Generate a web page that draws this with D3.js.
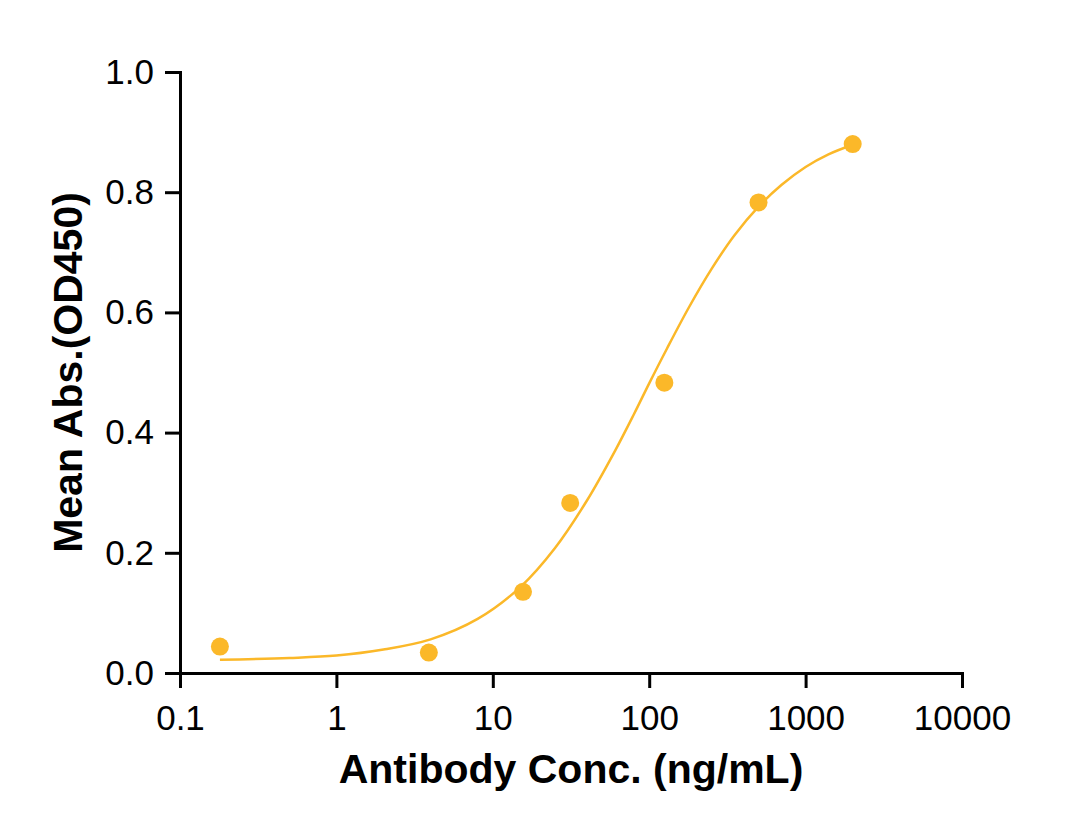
<!DOCTYPE html>
<html>
<head>
<meta charset="utf-8">
<script src="https://cdn.jsdelivr.net/npm/d3@7"></script>
<style>
  body { margin: 0; background: #fff; }
  svg { display: block; }
  .axis text { font-family: "Liberation Sans", Arial, sans-serif; font-size: 35px; fill: #000; }
  .axis path, .axis line { stroke: #000; stroke-width: 3; }
  .title { font-family: "Liberation Sans", Arial, sans-serif; font-weight: bold; font-size: 41px; fill: #000; }
</style>
</head>
<body>
<div id="chart"></div>
<script>
// measured points: concentration (ng/mL) vs mean absorbance
const conc = [0.18, 3.9, 15.6, 31.25, 125, 500, 2000]
const absorbance = [0.044, 0.034, 0.135, 0.283, 0.483, 0.783, 0.880]

// fitted curve at sample positions
const fitConc = [0.18, 0.5, 1, 2, 4, 8, 15, 25, 40, 60, 80, 100, 130, 180, 250, 350, 500, 700, 1000, 1400, 2000]
const fitAbs = [0.022, 0.025, 0.029, 0.039, 0.056, 0.090, 0.143, 0.208, 0.287, 0.368, 0.431, 0.482, 0.540, 0.609, 0.672, 0.728, 0.776, 0.812, 0.842, 0.863, 0.879]

const xTicks = [0.1, 1, 10, 100, 1000, 10000]
const yTicks = [0, 0.2, 0.4, 0.6, 0.8, 1.0]

const width = 1082
const height = 837
const padding = { top: 72, right: 120, bottom: 164, left: 180 }
const innerWidth = width - padding.left - padding.right
const innerHeight = height - padding.top - padding.bottom
const color = '#FBB829'

const svg = d3.select('#chart').append('svg')
  .attr('width', width)
  .attr('height', height)

const xScale = d3.scaleLog().domain([0.1, 10000]).range([0, innerWidth])
const yScale = d3.scaleLinear().domain([0, 1]).range([innerHeight, 0])

const g = svg.append('g')
  .attr('transform', `translate(${ padding.left },${ padding.top })`)

g.append('g')
  .attr('class', 'axis x-axis')
  .attr('transform', `translate(0,${ innerHeight })`)
  .call(d3.axisBottom(xScale).tickValues(xTicks).tickFormat(d3.format('~g')).tickSize(15).tickSizeOuter(0).tickPadding(17))

g.append('g')
  .attr('class', 'axis y-axis')
  .call(d3.axisLeft(yScale).tickValues(yTicks).tickFormat(d3.format('.1f')).tickSize(15).tickSizeOuter(0).tickPadding(11))

g.selectAll('.x-axis .tick text').attr('dy', '0.72em')
g.selectAll('.axis path').attr('stroke-linecap', 'square')

// fitted curve
const fit = fitConc.map((c, i) => [c, fitAbs[i]])
g.append('path')
  .datum(fit)
  .attr('fill', 'none')
  .attr('stroke', color)
  .attr('stroke-width', 2.5)
  .attr('d', d3.line()
    .x(d => xScale(d[0]))
    .y(d => yScale(d[1]))
    .curve(d3.curveCatmullRom.alpha(0.5)))

// data points
g.selectAll('.dot')
  .data(conc.map((c, i) => [c, absorbance[i]]))
  .join('circle')
  .attr('class', 'dot')
  .attr('cx', d => xScale(d[0]))
  .attr('cy', d => yScale(d[1]))
  .attr('r', 9)
  .attr('fill', color)

// axis titles
svg.append('text')
  .attr('class', 'title')
  .attr('x', padding.left + innerWidth / 2)
  .attr('y', 783)
  .attr('text-anchor', 'middle')
  .text('Antibody Conc. (ng/mL)')

svg.append('text')
  .attr('class', 'title')
  .attr('transform', `translate(82,${ padding.top + innerHeight / 2 }) rotate(-90)`)
  .attr('text-anchor', 'middle')
  .text('Mean Abs.(OD450)')
</script>
</body>
</html>
